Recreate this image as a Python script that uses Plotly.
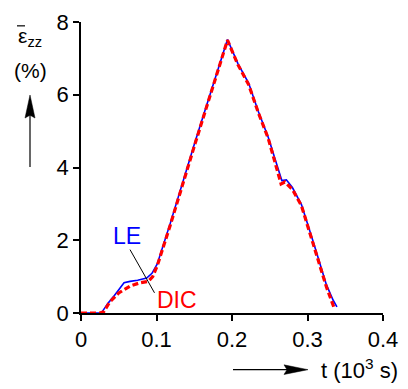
import plotly.graph_objects as go

# ---- data ----
le_t = [0, 0.025, 0.028, 0.035, 0.043, 0.05, 0.055, 0.057, 0.065, 0.075, 0.087, 0.094, 0.101,
        0.118, 0.151, 0.194, 0.208, 0.222, 0.235, 0.248, 0.266, 0.272, 0.28, 0.292, 0.308,
        0.325, 0.334, 0.339]
le_y = [0, 0, 0.03, 0.25, 0.45, 0.65, 0.78, 0.83, 0.87, 0.9, 0.96, 1.09, 1.35,
        2.45, 4.70, 7.52, 6.85, 6.32, 5.53, 4.83, 3.64, 3.66, 3.45, 2.98, 1.93,
        0.78, 0.35, 0.17]
dic_t = [0, 0.025, 0.03, 0.038, 0.05, 0.065, 0.078, 0.089, 0.095, 0.101, 0.118, 0.151, 0.194,
         0.208, 0.222, 0.235, 0.248, 0.265, 0.27, 0.28, 0.292, 0.308, 0.325, 0.336]
dic_y = [0, 0, 0.03, 0.3, 0.55, 0.74, 0.83, 0.87, 1.0, 1.3, 2.4, 4.65, 7.5,
         6.82, 6.28, 5.5, 4.8, 3.55, 3.6, 3.4, 2.95, 1.9, 0.72, 0.1]
x_ticks = [0, 0.1, 0.2, 0.3, 0.4]
x_ticklabels = ["0", "0.1", "0.2", "0.3", "0.4"]
y_ticks = [0, 2, 4, 6, 8]
y_ticklabels = ["0", "2", "4", "6", "8"]

# page body has an 8px margin; compensate so the plot lands where the reference has it
OFF = 8
W, H = 408 - OFF, 389 - OFF
ML, MR, MT, MB = 81 - OFF, 25, 10 - OFF, 76
PW, PH = W - ML - MR, H - MT - MB


def px(x):
    return (x - OFF - ML) / PW


def py(y):
    return (H - MB - (y - OFF)) / PH


FONT = "Arial, Liberation Sans, Helvetica, sans-serif"

fig = go.Figure()
fig.add_trace(go.Scatter(x=le_t, y=le_y, mode="lines", name="LE",
                         line=dict(color="#0000ff", width=1.6)))
fig.add_trace(go.Scatter(x=dic_t, y=dic_y, mode="lines", name="DIC",
                         line=dict(color="#ff0000", width=3.2, dash="6px,3px")))

shapes = []
# leader line
shapes.append(dict(type="line", xref="paper", yref="paper",
                   x0=px(130), y0=py(247), x1=px(154.5), y1=py(292),
                   line=dict(color="black", width=1)))
# bar over epsilon
shapes.append(dict(type="line", xref="paper", yref="paper",
                   x0=px(17), y0=py(14), x1=px(25), y1=py(14),
                   line=dict(color="black", width=1.2)))
# y arrow
shapes.append(dict(type="line", xref="paper", yref="paper",
                   x0=px(30), y0=py(161), x1=px(30), y1=py(105),
                   line=dict(color="black", width=1.2)))
shapes.append(dict(type="path", xref="paper", yref="paper",
                   path=f"M{px(30)},{py(86)} L{px(35)},{py(110)} L{px(30)},{py(107)} L{px(25)},{py(110)} Z",
                   fillcolor="black", line=dict(color="black", width=0.5)))
# x arrow
shapes.append(dict(type="line", xref="paper", yref="paper",
                   x0=px(233), y0=py(372), x1=px(290), y1=py(372),
                   line=dict(color="black", width=1.2)))
shapes.append(dict(type="path", xref="paper", yref="paper",
                   path=f"M{px(308)},{py(372)} L{px(284)},{py(367)} L{px(287)},{py(372)} L{px(284)},{py(377)} Z",
                   fillcolor="black", line=dict(color="black", width=0.5)))

annotations = [
    dict(xref="paper", yref="paper", x=px(127), y=py(233), text="LE", showarrow=False,
         font=dict(size=23, color="#0000ff", family=FONT), xanchor="center", yanchor="middle"),
    dict(xref="paper", yref="paper", x=px(177), y=py(299), text="DIC", showarrow=False,
         font=dict(size=23, color="#ff0000", family=FONT), xanchor="center", yanchor="middle"),
    dict(xref="paper", yref="paper", x=px(30), y=py(26), text="ε<sub>zz</sub>", showarrow=False,
         font=dict(size=21, color="black", family=FONT), xanchor="center", yanchor="middle"),
    dict(xref="paper", yref="paper", x=px(30), y=py(60), text="(%)", showarrow=False,
         font=dict(size=21, color="black", family=FONT), xanchor="center", yanchor="middle"),
    dict(xref="paper", yref="paper", x=px(319), y=py(371), text="t (10<sup>3</sup> s)", showarrow=False,
         font=dict(size=22, color="black", family=FONT), xanchor="left", yanchor="middle"),
]

axis_common = dict(showline=True, linecolor="black", linewidth=1.5,
                   ticks="outside", ticklen=6, tickwidth=1.5, tickcolor="black",
                   showgrid=False, zeroline=False, tickfont=dict(size=22),
                   ticklabeloverflow="allow")

fig.update_layout(
    width=W, height=H,
    margin=dict(l=ML, r=MR, t=MT, b=MB, pad=0),
    paper_bgcolor="white", plot_bgcolor="white",
    showlegend=False,
    font=dict(family=FONT, size=22, color="black"),
    shapes=shapes, annotations=annotations,
    xaxis=dict(range=[0, 0.4], tickvals=x_ticks, ticktext=x_ticklabels, **axis_common),
    yaxis=dict(range=[0, 8], tickvals=y_ticks, ticktext=y_ticklabels, **axis_common),
)

fig.write_html("out.html")
